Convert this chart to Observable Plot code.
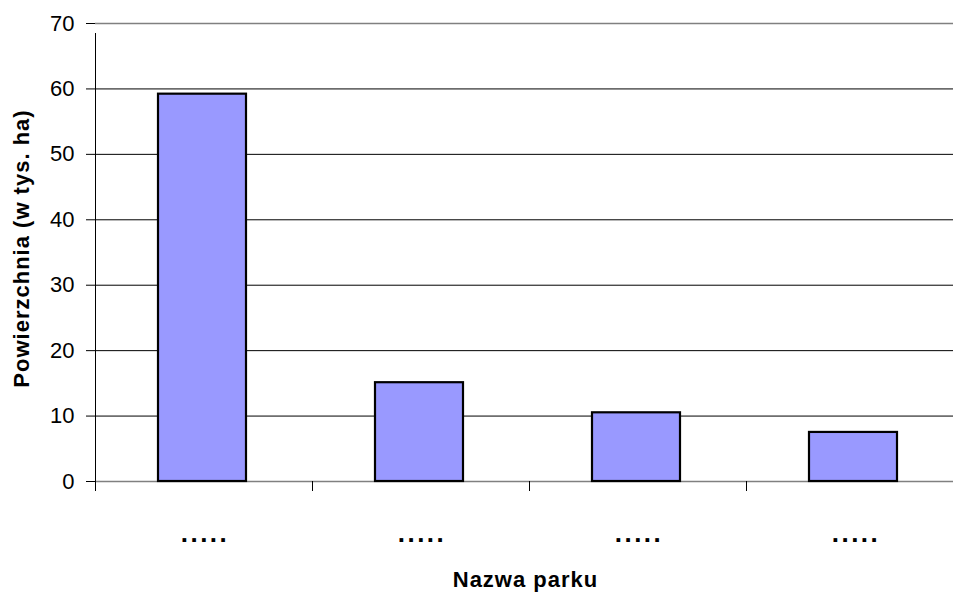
<!DOCTYPE html>
<html>
<head>
<meta charset="utf-8">
<script src="https://cdn.jsdelivr.net/npm/d3@7"></script>
<script src="https://cdn.jsdelivr.net/npm/@observablehq/plot@0.6"></script>
<style>
  html, body { margin: 0; padding: 0; background: #fff; }
  #chart svg { display: block; }
</style>
</head>
<body>
<div id="chart"></div>
<script>
const categories = [".....", ".....", ".....", "....."];
const values = [59.2, 15.1, 10.5, 7.5];
const yTicks = [0, 10, 20, 30, 40, 50, 60, 70];
const xLabel = "Nazwa parku";
const yLabel = "Powierzchnia (w tys. ha)";

const data = categories.map((c, i) => ({i, c, v: values[i]}));
const bounds = d3.range(categories.length + 1);

const chart = Plot.plot({
  width: 953,
  height: 592,
  marginLeft: 95,
  marginRight: 0,
  marginTop: 23,
  marginBottom: 111,
  x: {type: "linear", domain: [0, categories.length], range: [95, 963]},
  y: {domain: [0, 70], range: [481, 23]},
  style: {fontFamily: "'Liberation Sans', Arial, sans-serif", background: "white", color: "#000"},
  marks: [
    Plot.ruleY(yTicks.filter(d => d > 0 && d < 70), {stroke: "#000", strokeWidth: 1}),
    Plot.ruleY([70], {stroke: "#808080", strokeWidth: 1.5}),
    Plot.ruleY([0], {stroke: "#808080", strokeWidth: 1.5}),
    Plot.rect(data, {
      x1: d => d.i, x2: d => d.i + 1, y1: 0, y2: "v",
      fill: "#9999FF", stroke: "#000", strokeWidth: 2.2,
      insetLeft: 63, insetRight: 66
    }),
    Plot.ruleX([0], {y1: 0, y2: 70, stroke: "#000", insetBottom: -10}),
    Plot.axisY({ticks: yTicks, tickSize: 9, tickPadding: 12, fontSize: 22, label: null, tickFormat: d => String(d)}),
    Plot.axisX({ticks: bounds, tickSize: 10, tickFormat: () => "", label: null}),
    Plot.text(data, {
      x: d => d.i + 0.5, y: 0, text: "c", dy: 52, dx: 1,
      fontSize: 26, fontWeight: "bold", lineAnchor: "middle"
    }),
    Plot.text([xLabel], {
      frameAnchor: "bottom", dy: 98, fontSize: 22, fontWeight: "bold", lineAnchor: "middle", textAnchor: "middle", dx: 1
    }),
    Plot.text([yLabel], {
      frameAnchor: "left", dx: -74, dy: -4, rotate: -90, fontSize: 22, fontWeight: "bold",
      lineAnchor: "middle", textAnchor: "middle"
    })
  ]
});

d3.select(chart).selectAll("text").each(function() {
  const t = d3.select(this);
  const s = t.text();
  if (s === ".....") t.style("letter-spacing", "2.5px");
  else if (s === xLabel || s === yLabel) t.style("letter-spacing", "1px");
});

document.getElementById("chart").appendChild(chart);
</script>
</body>
</html>
